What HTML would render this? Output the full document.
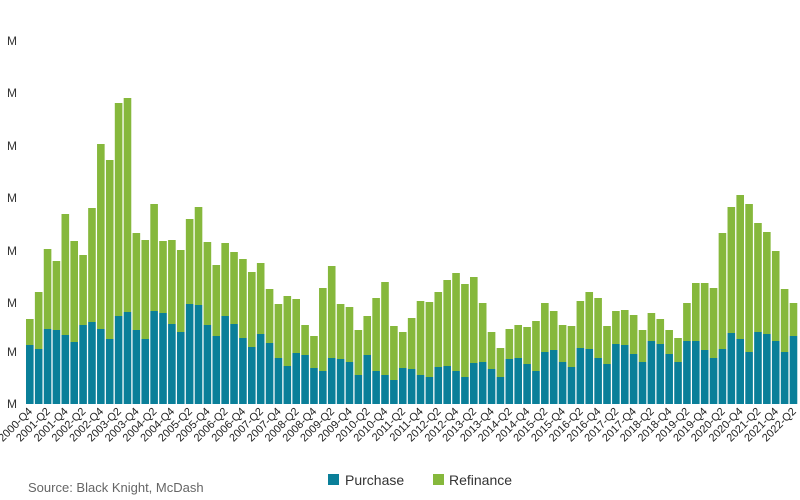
<!DOCTYPE html>
<html><head><meta charset="utf-8">
<style>
html,body{margin:0;padding:0;background:#fff;width:800px;height:500px;overflow:hidden}
svg{display:block}
text{font-family:"Liberation Sans",sans-serif}
</style></head>
<body>
<svg id="c" width="800" height="500" xmlns="http://www.w3.org/2000/svg">
<g fill="#333" font-size="12" text-anchor="end">
<text x="17" y="45">M</text><text x="17" y="97">M</text><text x="17" y="150">M</text>
<text x="17" y="202">M</text><text x="17" y="255">M</text><text x="17" y="307">M</text>
<text x="17" y="356">M</text><text x="17" y="408">M</text>
</g>
<g id="bars"></g>
<g id="labs" fill="#222" font-size="11" text-anchor="end"></g>
<rect x="328" y="474" width="11" height="11" fill="#0a7f99"/>
<text x="345" y="485" font-size="14" fill="#333">Purchase</text>
<rect x="433" y="474" width="11" height="11" fill="#86b83c"/>
<text x="449" y="485" font-size="14" fill="#333">Refinance</text>
<text x="28" y="492" font-size="13" fill="#666">Source: Black Knight, McDash</text>
</svg>
<script>
var T=[319,292,249,261,214,241,255,208,144,160,103,98,233,240,204,241,240,250,219,207,242,265,243,252,259,272,263,289,304,296,299,325,336,288,266,304,307,330,316,298,282,326,332,318,301,302,292,280,273,284,277,303,332,348,329,325,327,321,303,311,325,326,301,292,298,326,311,310,315,330,313,319,330,338,303,283,283,288,233,207,195,204,223,232,251,289,303];
var P=[345,349,329,330,335,342,325,322,329,339,316,312,330,339,311,313,324,332,304,305,325,336,316,324,338,347,334,343,358,366,353,355,368,371,358,359,362,375,355,371,375,380,368,369,375,377,367,366,371,377,363,362,369,377,359,358,364,371,352,350,362,367,348,349,358,364,344,345,354,362,341,344,354,362,341,341,350,358,349,333,339,352,332,334,341,352,336];
var B=404,ns="http://www.w3.org/2000/svg",g=document.getElementById('bars'),L=document.getElementById('labs');
function r(x,y,h,c){var e=document.createElementNS(ns,'rect');e.setAttribute('x',x);e.setAttribute('y',y);e.setAttribute('width',7.6);e.setAttribute('height',h);e.setAttribute('fill',c);g.appendChild(e);}
for(var i=0;i<T.length;i++){var x=26+i*8.88;
r(x,T[i],P[i]-T[i],'#86b83c');r(x,P[i],B-P[i],'#0a7f99');
if(i%2==0){var q=3+i,yr=2000+Math.floor(q/4),qq=q%4+1;var t=document.createElementNS(ns,'text');
var cx=x+7,cy=412;t.setAttribute('x',cx);t.setAttribute('y',cy);t.setAttribute('transform','rotate(-45 '+cx+' '+cy+')');t.textContent=yr+'-Q'+qq;L.appendChild(t);}}
</script>
</body></html>
